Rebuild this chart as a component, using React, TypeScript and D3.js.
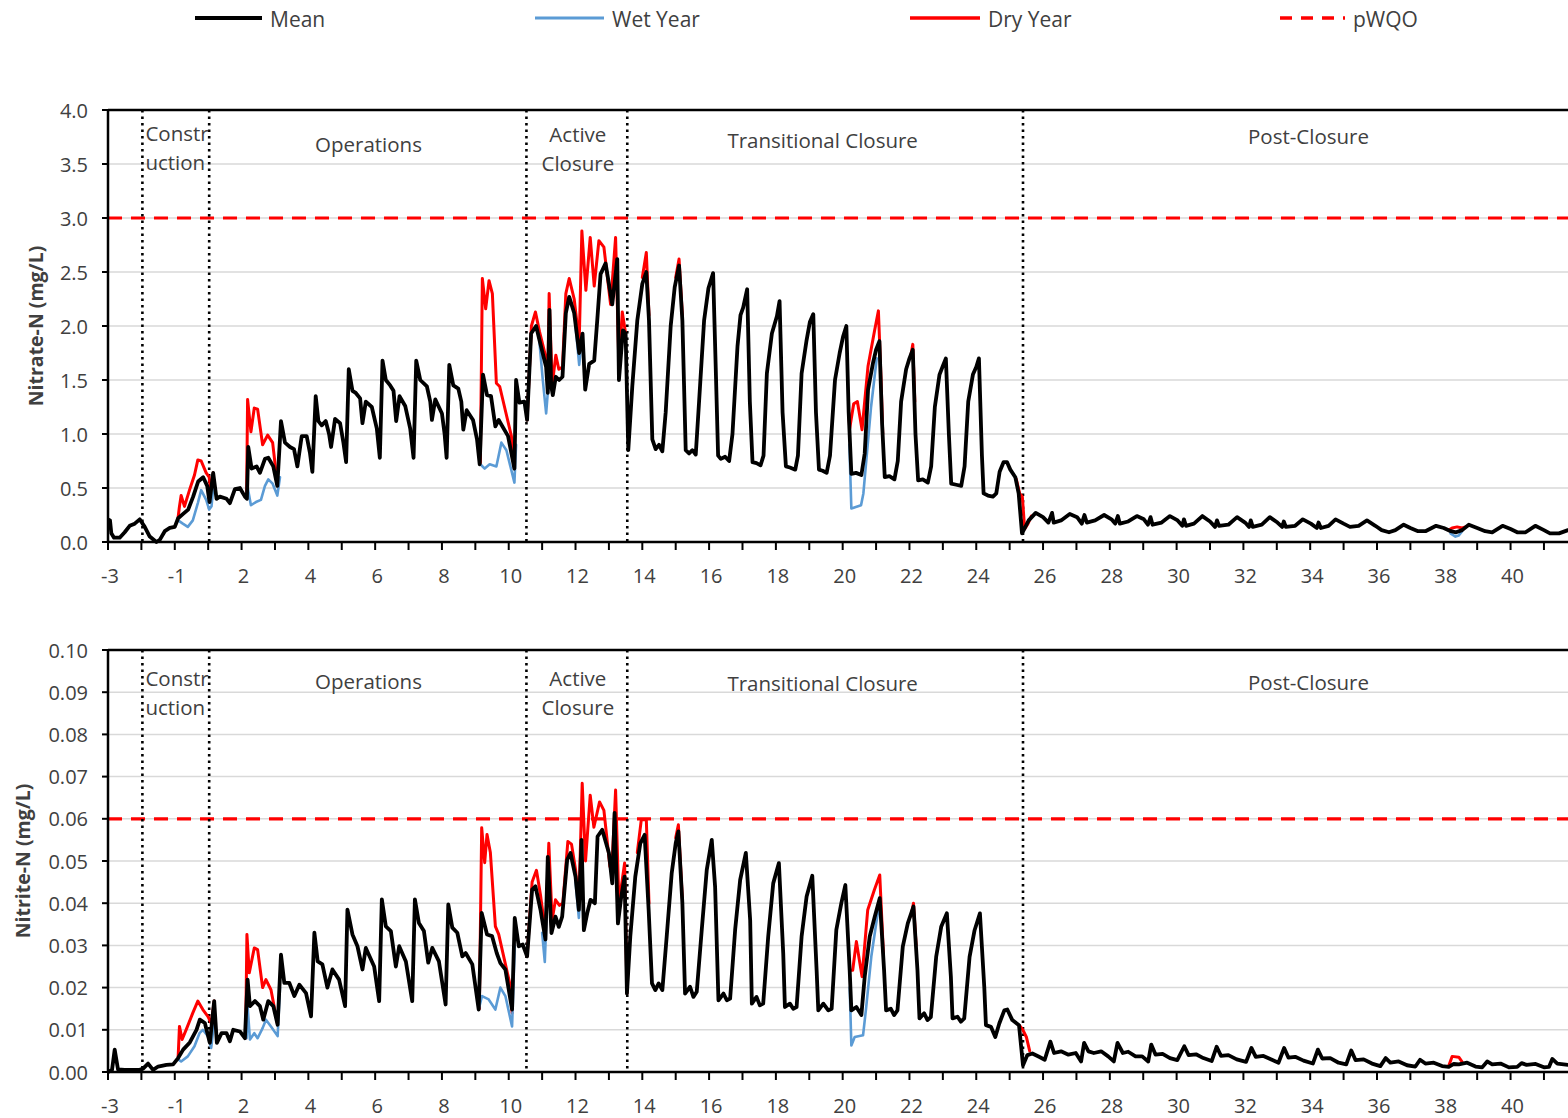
import * as d3 from 'd3';

type Pt = [number, number];

const W = 1568;
const H = 1118;
const FONT = '"Open Sans", "Noto Sans", sans-serif';
const INK = '#404040';
const C_MEAN = '#000000';
const C_WET = '#5B9BD5';
const C_DRY = '#FF0000';

// one label per model period (no year 0)
const periodLabels = [
  '-3', '-2', '-1', '1', '2', '3', '4', '5', '6', '7', '8', '9', '10', '11', '12', '13', '14', '15', '16', '17', '18',
  '19', '20', '21', '22', '23', '24', '25', '26', '27', '28', '29', '30', '31', '32', '33', '34', '35', '36', '37',
  '38', '39', '40', '41',
];

// phase boundaries, in period index units
const phaseLines = [1.03, 3.03, 12.53, 15.55, 27.4];

const nitrateTicks = [0, 0.5, 1.0, 1.5, 2.0, 2.5, 3.0, 3.5, 4.0];
const nitriteTicks = [0, 0.01, 0.02, 0.03, 0.04, 0.05, 0.06, 0.07, 0.08, 0.09, 0.1];
const pwqoNitrate = 3.0;
const pwqoNitrite = 0.06;

const nitrateMean: Pt[] = [
  [0, 0.21], [0.06, 0.2], [0.1, 0.08], [0.18, 0.04], [0.35, 0.04], [0.5, 0.09], [0.65, 0.15], [0.8, 0.17], [0.95, 0.21],
  [1.1, 0.14], [1.25, 0.05], [1.45, 0.0], [1.55, 0.02], [1.7, 0.1], [1.85, 0.13], [2.0, 0.14], [2.1, 0.22], [2.25, 0.26],
  [2.4, 0.3], [2.55, 0.42], [2.7, 0.56], [2.85, 0.6], [2.97, 0.52], [3.04, 0.37], [3.15, 0.64], [3.25, 0.4], [3.35, 0.42],
  [3.55, 0.4], [3.65, 0.36], [3.8, 0.49], [3.95, 0.5], [4.1, 0.42], [4.16, 0.4],
  [4.2, 0.88], [4.3, 0.68], [4.45, 0.7], [4.55, 0.64], [4.7, 0.77], [4.8, 0.78], [4.95, 0.7], [5.07, 0.52],
  [5.18, 1.12], [5.3, 0.92], [5.45, 0.88], [5.57, 0.86], [5.67, 0.7], [5.8, 0.98], [5.95, 0.98], [6.05, 0.82], [6.12, 0.65],
  [6.22, 1.35], [6.3, 1.12], [6.4, 1.08], [6.52, 1.12], [6.62, 1.0], [6.68, 0.88], [6.8, 1.14], [6.95, 1.1], [7.05, 0.92], [7.13, 0.74],
  [7.21, 1.6], [7.32, 1.4], [7.42, 1.38], [7.55, 1.33], [7.62, 1.1], [7.72, 1.3], [7.9, 1.25], [8.05, 1.05], [8.14, 0.78],
  [8.22, 1.68], [8.32, 1.5], [8.45, 1.45], [8.55, 1.4], [8.63, 1.12], [8.73, 1.35], [8.9, 1.26], [9.05, 1.05], [9.15, 0.78],
  [9.23, 1.68], [9.35, 1.5], [9.55, 1.44], [9.65, 1.3], [9.7, 1.13], [9.8, 1.32], [10.0, 1.19], [10.08, 1.0], [10.14, 0.78],
  [10.22, 1.64], [10.34, 1.45], [10.49, 1.42], [10.58, 1.3], [10.64, 1.04], [10.74, 1.22], [10.93, 1.13], [11.05, 0.95], [11.13, 0.72],
  [11.23, 1.55], [11.35, 1.36], [11.47, 1.35], [11.6, 1.07], [11.7, 1.13], [11.98, 0.98], [12.17, 0.68],
  [12.22, 1.5], [12.32, 1.29], [12.47, 1.3], [12.55, 1.13],
  [12.67, 1.93], [12.82, 2.0], [12.92, 1.87], [13.12, 1.62], [13.17, 1.38], [13.22, 2.15], [13.27, 1.45], [13.32, 1.36],
  [13.41, 1.53], [13.51, 1.5], [13.61, 1.53], [13.71, 2.12], [13.81, 2.27], [13.96, 2.12], [14.11, 1.75], [14.21, 1.93],
  [14.29, 1.41], [14.41, 1.65], [14.56, 1.68], [14.65, 2.05], [14.75, 2.48], [14.9, 2.58], [15.1, 2.2], [15.25, 2.62],
  [15.3, 1.5], [15.42, 1.96], [15.5, 1.93], [15.58, 0.85],
  [15.7, 1.44], [15.85, 2.05], [16.0, 2.39], [16.12, 2.5], [16.2, 2.05], [16.3, 0.95], [16.4, 0.86], [16.5, 0.9], [16.6, 0.84],
  [16.7, 1.2], [16.85, 2.0], [16.97, 2.36], [17.1, 2.56], [17.2, 2.05], [17.3, 0.85], [17.4, 0.82], [17.5, 0.85], [17.6, 0.81],
  [17.7, 1.3], [17.85, 2.05], [17.98, 2.35], [18.12, 2.49], [18.2, 1.6], [18.27, 0.8], [18.35, 0.77], [18.48, 0.79], [18.6, 0.75],
  [18.7, 1.0], [18.85, 1.81], [18.94, 2.1], [19.02, 2.17], [19.14, 2.34], [19.22, 1.3], [19.3, 0.74], [19.42, 0.73], [19.54, 0.71],
  [19.63, 0.8], [19.73, 1.56], [19.88, 1.93], [20.03, 2.09], [20.11, 2.23], [20.2, 1.2], [20.3, 0.7], [20.42, 0.69], [20.58, 0.67],
  [20.66, 0.8], [20.77, 1.56], [20.92, 1.87], [21.02, 2.04], [21.12, 2.11], [21.2, 1.2], [21.29, 0.67], [21.4, 0.66], [21.52, 0.64],
  [21.62, 0.8], [21.77, 1.5], [21.91, 1.75], [22.01, 1.9], [22.11, 2.0], [22.18, 1.2], [22.26, 0.63], [22.4, 0.64], [22.56, 0.62],
  [22.66, 0.82], [22.76, 1.41], [22.91, 1.66], [23.0, 1.78], [23.1, 1.86], [23.18, 1.1], [23.26, 0.6], [23.4, 0.61], [23.55, 0.58],
  [23.65, 0.75], [23.75, 1.3], [23.9, 1.6], [24.0, 1.7], [24.1, 1.78], [24.18, 1.0], [24.26, 0.57], [24.4, 0.58], [24.55, 0.55],
  [24.65, 0.7], [24.76, 1.25], [24.9, 1.55], [25.0, 1.63], [25.09, 1.7], [25.18, 1.0], [25.25, 0.54], [25.4, 0.53], [25.55, 0.52],
  [25.65, 0.7], [25.76, 1.3], [25.9, 1.55], [26.0, 1.62], [26.08, 1.7], [26.17, 0.8], [26.22, 0.45], [26.35, 0.43], [26.5, 0.42],
  [26.6, 0.45], [26.7, 0.65], [26.82, 0.74], [26.92, 0.74], [27.02, 0.67], [27.17, 0.6], [27.27, 0.45], [27.37, 0.08],
  [27.47, 0.14], [27.57, 0.2], [27.78, 0.27],
  [28.0, 0.23], [28.16, 0.18], [28.27, 0.27], [28.32, 0.18], [28.54, 0.2], [28.8, 0.26], [29.02, 0.23], [29.16, 0.17],
  [29.24, 0.25], [29.31, 0.18], [29.56, 0.2], [29.83, 0.25], [30.05, 0.21], [30.16, 0.17], [30.24, 0.24], [30.3, 0.17],
  [30.55, 0.19], [30.81, 0.24], [31.02, 0.21], [31.14, 0.16], [31.22, 0.23], [31.28, 0.16], [31.55, 0.18], [31.8, 0.24],
  [32.03, 0.2], [32.17, 0.15], [32.22, 0.21], [32.28, 0.15], [32.52, 0.17], [32.77, 0.24], [33.0, 0.19], [33.15, 0.14],
  [33.21, 0.2], [33.27, 0.15], [33.55, 0.16], [33.81, 0.23], [34.05, 0.18], [34.17, 0.14], [34.22, 0.2], [34.28, 0.14],
  [34.55, 0.16], [34.79, 0.23], [35.02, 0.18], [35.16, 0.14], [35.21, 0.19], [35.27, 0.14], [35.55, 0.15], [35.78, 0.21],
  [36.02, 0.17], [36.2, 0.13], [36.25, 0.18], [36.32, 0.13], [36.55, 0.15], [36.76, 0.21], [37.0, 0.17], [37.19, 0.14],
  [37.45, 0.15], [37.7, 0.2], [37.95, 0.15], [38.14, 0.11], [38.36, 0.09], [38.55, 0.11], [38.8, 0.16], [39.0, 0.13],
  [39.23, 0.1], [39.45, 0.1], [39.77, 0.15], [40.0, 0.13], [40.21, 0.1], [40.37, 0.09], [40.55, 0.11], [40.75, 0.16],
  [41.0, 0.13], [41.24, 0.1], [41.45, 0.09], [41.76, 0.15], [42.0, 0.12], [42.2, 0.09], [42.45, 0.09], [42.74, 0.15],
  [43.0, 0.11], [43.18, 0.08], [43.45, 0.08], [43.72, 0.11],
];

// dry / wet scenarios: only the stretches where they leave the mean
const nitrateDry: Pt[][] = [
  [[2.1, 0.23], [2.14, 0.33], [2.19, 0.43], [2.29, 0.33], [2.44, 0.48], [2.59, 0.62], [2.69, 0.76], [2.79, 0.75], [2.94, 0.64], [3.03, 0.6], [3.08, 0.45], [3.15, 0.64]],
  [[4.15, 0.42], [4.18, 1.32], [4.28, 1.02], [4.38, 1.24], [4.48, 1.23], [4.63, 0.9], [4.78, 0.99], [4.93, 0.92], [5.07, 0.54]],
  [[11.15, 0.72], [11.21, 2.44], [11.31, 2.16], [11.41, 2.42], [11.51, 2.3], [11.63, 1.47], [11.73, 1.44], [12.08, 0.98], [12.17, 0.68]],
  [[12.55, 1.13], [12.68, 2.0], [12.8, 2.13], [12.92, 1.95], [13.12, 1.7], [13.17, 1.5], [13.21, 2.3], [13.3, 1.45], [13.41, 1.73],
    [13.5, 1.6], [13.61, 1.62], [13.71, 2.3], [13.81, 2.44], [13.96, 2.25], [14.11, 1.85], [14.19, 2.88], [14.31, 2.33], [14.44, 2.82],
    [14.56, 2.37], [14.7, 2.79], [14.85, 2.73], [15.05, 2.2], [15.2, 2.82], [15.3, 1.62], [15.4, 2.13], [15.5, 1.93]],
  [[16.0, 2.45], [16.12, 2.68], [16.2, 2.1]],
  [[17.0, 2.45], [17.1, 2.62], [17.2, 2.1]],
  [[22.18, 1.2], [22.21, 1.05], [22.33, 1.28], [22.44, 1.3], [22.58, 1.04], [22.76, 1.63], [22.95, 1.95], [23.07, 2.14], [23.15, 1.5], [23.2, 1.0]],
  [[24.05, 1.74], [24.1, 1.83], [24.16, 1.3]],
  [[27.2, 0.58], [27.3, 0.45], [27.38, 0.42], [27.45, 0.12], [27.55, 0.17], [27.65, 0.24]],
  [[40.15, 0.11], [40.25, 0.13], [40.4, 0.14], [40.55, 0.13], [40.65, 0.14]],
];

const nitrateWet: Pt[][] = [
  [[2.1, 0.2], [2.24, 0.17], [2.39, 0.14], [2.54, 0.2], [2.69, 0.36], [2.79, 0.48], [2.94, 0.39], [3.03, 0.3], [3.1, 0.33], [3.15, 0.5]],
  [[4.15, 0.4], [4.18, 0.51], [4.28, 0.34], [4.43, 0.37], [4.58, 0.39], [4.7, 0.52], [4.8, 0.58], [4.93, 0.54], [5.07, 0.43], [5.15, 0.6]],
  [[11.15, 0.72], [11.28, 0.68], [11.43, 0.72], [11.63, 0.7], [11.78, 0.92], [11.93, 0.85], [12.17, 0.55], [12.22, 0.9]],
  [[12.92, 1.85], [13.02, 1.5], [13.12, 1.19], [13.2, 1.5]],
  [[14.0, 2.0], [14.11, 1.64], [14.19, 1.9]],
  [[22.2, 0.9], [22.26, 0.31], [22.55, 0.34], [22.62, 0.45], [22.85, 1.25], [23.02, 1.7]],
  [[40.2, 0.08], [40.35, 0.05], [40.45, 0.06], [40.55, 0.1]],
];

const nitriteMean: Pt[] = [
  [0, 0.0], [0.12, 0.0005], [0.2, 0.0053], [0.3, 0.0006], [0.5, 0.0005], [0.95, 0.0005], [1.05, 0.0008], [1.2, 0.002],
  [1.35, 0.0005], [1.5, 0.0013], [1.75, 0.0017], [1.95, 0.0018], [2.1, 0.0033], [2.25, 0.0053], [2.45, 0.007], [2.65, 0.01],
  [2.75, 0.0124], [2.9, 0.0116], [3.05, 0.0069], [3.18, 0.0168], [3.26, 0.0069], [3.4, 0.0092], [3.55, 0.0092], [3.65, 0.0073],
  [3.75, 0.01], [3.95, 0.0096], [4.1, 0.008],
  [4.18, 0.0219], [4.25, 0.0156], [4.4, 0.0168], [4.55, 0.0156], [4.65, 0.0124], [4.8, 0.0168], [4.95, 0.0156], [5.08, 0.0112],
  [5.18, 0.0278], [5.28, 0.0211], [5.43, 0.0211], [5.58, 0.018], [5.73, 0.0207], [5.93, 0.0187], [6.08, 0.0132],
  [6.18, 0.033], [6.28, 0.0262], [6.42, 0.0255], [6.57, 0.02], [6.72, 0.0243], [6.92, 0.0219], [7.1, 0.0156],
  [7.17, 0.0385], [7.32, 0.0326], [7.47, 0.0298], [7.62, 0.0243], [7.72, 0.0294], [7.97, 0.025], [8.12, 0.0168],
  [8.2, 0.0409], [8.32, 0.0345], [8.47, 0.0334], [8.62, 0.025], [8.72, 0.0298], [8.92, 0.0262], [9.11, 0.0168],
  [9.19, 0.0409], [9.31, 0.0353], [9.46, 0.0334], [9.59, 0.0259], [9.71, 0.0294], [9.91, 0.0262], [10.11, 0.016],
  [10.19, 0.0397], [10.31, 0.0342], [10.46, 0.033], [10.61, 0.0274], [10.71, 0.0282], [10.91, 0.0255], [11.1, 0.0148],
  [11.19, 0.0377], [11.35, 0.0326], [11.5, 0.0322], [11.64, 0.0282], [11.75, 0.0258], [11.9, 0.0243], [12.1, 0.0148],
  [12.18, 0.0365], [12.3, 0.0298], [12.42, 0.0302], [12.55, 0.0274],
  [12.7, 0.0432], [12.8, 0.044], [12.95, 0.0385], [13.1, 0.0314], [13.17, 0.051], [13.28, 0.0329], [13.4, 0.0368], [13.5, 0.0344],
  [13.6, 0.0368], [13.75, 0.0503], [13.85, 0.0519], [14.0, 0.0463], [14.1, 0.0384], [14.18, 0.055], [14.25, 0.0336], [14.35, 0.0376],
  [14.45, 0.0408], [14.58, 0.04], [14.66, 0.0558], [14.8, 0.0574], [15.0, 0.0519], [15.1, 0.0447], [15.17, 0.0614], [15.27, 0.0352],
  [15.37, 0.0416], [15.47, 0.0463], [15.54, 0.0186],
  [15.64, 0.0321], [15.79, 0.0463], [15.94, 0.0542], [16.07, 0.0562], [16.19, 0.0384], [16.29, 0.021], [16.39, 0.0194], [16.49, 0.021],
  [16.6, 0.0194], [16.73, 0.0321], [16.88, 0.0471], [17.0, 0.0542], [17.08, 0.057], [17.2, 0.04], [17.28, 0.0186], [17.43, 0.0202],
  [17.53, 0.0178], [17.63, 0.019], [17.78, 0.0337], [17.93, 0.0479], [18.08, 0.055], [18.18, 0.0439], [18.28, 0.017], [18.43, 0.0186],
  [18.53, 0.017], [18.63, 0.0174], [18.78, 0.0337], [18.93, 0.0455], [19.1, 0.0519], [19.23, 0.036], [19.28, 0.0162], [19.42, 0.0178],
  [19.52, 0.0158], [19.62, 0.0162], [19.77, 0.0321], [19.92, 0.0447], [20.09, 0.0495], [20.22, 0.0281], [20.27, 0.0154], [20.42, 0.0162],
  [20.52, 0.015], [20.62, 0.0154], [20.77, 0.0321], [20.92, 0.0416], [21.09, 0.0465], [21.22, 0.0241], [21.27, 0.0146], [21.42, 0.0162],
  [21.57, 0.0146], [21.67, 0.015], [21.81, 0.0337], [21.96, 0.04], [22.08, 0.0443], [22.21, 0.0241], [22.26, 0.0146], [22.41, 0.0154],
  [22.56, 0.0135], [22.66, 0.0226], [22.81, 0.0321], [22.96, 0.0368], [23.11, 0.0412], [23.24, 0.0241], [23.3, 0.0146], [23.44, 0.015],
  [23.54, 0.0135], [23.64, 0.0146], [23.8, 0.0297], [23.95, 0.0352], [24.12, 0.0392], [24.24, 0.0241], [24.3, 0.0127], [24.44, 0.0139],
  [24.54, 0.0123], [24.64, 0.013], [24.8, 0.0273], [24.95, 0.0344], [25.12, 0.0376], [25.24, 0.0226], [25.29, 0.0127], [25.44, 0.0131],
  [25.54, 0.0119], [25.64, 0.0127], [25.8, 0.0273], [25.95, 0.0336], [26.11, 0.0376], [26.24, 0.0202], [26.29, 0.0111], [26.44, 0.0107],
  [26.57, 0.0083], [26.69, 0.0115], [26.84, 0.0146], [26.93, 0.0148], [27.08, 0.0123], [27.28, 0.0111], [27.4, 0.0016], [27.53, 0.004],
  [27.68, 0.0044], [27.88, 0.0036],
  [28.05, 0.0029], [28.22, 0.0072], [28.33, 0.0045], [28.54, 0.0049], [28.76, 0.0041], [28.98, 0.0045], [29.14, 0.0025], [29.23, 0.0069],
  [29.36, 0.0049], [29.52, 0.0045], [29.74, 0.0049], [29.95, 0.0037], [30.12, 0.0025], [30.23, 0.0069], [30.39, 0.0045], [30.55, 0.0048],
  [30.77, 0.0037], [30.97, 0.0037], [31.15, 0.0025], [31.24, 0.0065], [31.37, 0.0041], [31.58, 0.0043], [31.8, 0.0033], [32.02, 0.0028],
  [32.23, 0.0061], [32.36, 0.004], [32.58, 0.0042], [32.8, 0.0033], [33.05, 0.0026], [33.2, 0.006], [33.33, 0.0038], [33.55, 0.004],
  [33.8, 0.003], [34.08, 0.0024], [34.24, 0.0057], [34.37, 0.0036], [34.6, 0.0038], [34.82, 0.003], [35.05, 0.0022], [35.22, 0.0057],
  [35.35, 0.0034], [35.55, 0.0036], [35.8, 0.0027], [36.08, 0.002], [36.23, 0.0053], [36.36, 0.0032], [36.6, 0.0033], [36.85, 0.0022],
  [37.08, 0.0018], [37.23, 0.0051], [37.36, 0.0028], [37.6, 0.003], [37.85, 0.002], [38.1, 0.0014], [38.26, 0.0033], [38.4, 0.0022],
  [38.65, 0.0025], [38.9, 0.0016], [39.15, 0.0013], [39.29, 0.0029], [39.45, 0.002], [39.7, 0.0022], [39.95, 0.0014], [40.15, 0.0012],
  [40.3, 0.0019], [40.45, 0.0018], [40.7, 0.0022], [40.95, 0.0013], [41.15, 0.0011], [41.3, 0.0025], [41.45, 0.0018], [41.7, 0.002],
  [41.95, 0.0011], [42.2, 0.0012], [42.33, 0.0021], [42.48, 0.0017], [42.75, 0.0019], [43.0, 0.0011], [43.15, 0.0012], [43.25, 0.0031],
  [43.4, 0.002], [43.72, 0.0017],
];

const nitriteDry: Pt[][] = [
  [[2.1, 0.0035], [2.14, 0.0108], [2.22, 0.0077], [2.36, 0.0104], [2.54, 0.014], [2.69, 0.0168], [2.84, 0.0148], [2.99, 0.0132], [3.09, 0.0116], [3.18, 0.0168]],
  [[4.12, 0.008], [4.16, 0.0326], [4.23, 0.0235], [4.38, 0.0294], [4.48, 0.029], [4.63, 0.02], [4.73, 0.0219], [4.88, 0.0195], [5.08, 0.0112]],
  [[11.12, 0.015], [11.19, 0.0579], [11.28, 0.0496], [11.35, 0.0563], [11.45, 0.052], [11.6, 0.0345], [11.7, 0.0326], [12.05, 0.0203], [12.1, 0.014]],
  [[12.55, 0.0274], [12.7, 0.045], [12.83, 0.0478], [12.95, 0.042], [13.1, 0.033], [13.2, 0.0542], [13.3, 0.036], [13.4, 0.0408],
    [13.52, 0.0395], [13.62, 0.04], [13.77, 0.0546], [13.88, 0.054], [14.0, 0.048], [14.1, 0.04], [14.2, 0.0684], [14.3, 0.05],
    [14.44, 0.0656], [14.55, 0.058], [14.72, 0.064], [14.85, 0.062], [15.03, 0.0487], [15.1, 0.05], [15.2, 0.0668], [15.3, 0.04],
    [15.47, 0.0495], [15.54, 0.0186]],
  [[15.85, 0.052], [15.97, 0.0598], [16.12, 0.0598], [16.2, 0.04]],
  [[17.0, 0.0555], [17.08, 0.0586], [17.2, 0.041]],
  [[22.21, 0.0241], [22.3, 0.0241], [22.41, 0.0309], [22.58, 0.0226], [22.75, 0.0384], [22.95, 0.0432], [23.11, 0.0467], [23.22, 0.028]],
  [[24.05, 0.037], [24.12, 0.04], [24.2, 0.03]],
  [[27.3, 0.011], [27.4, 0.0099], [27.5, 0.0083], [27.6, 0.005]],
  [[40.15, 0.0015], [40.25, 0.0037], [40.45, 0.0035], [40.55, 0.0024]],
];

const nitriteWet: Pt[][] = [
  [[2.1, 0.003], [2.19, 0.0025], [2.39, 0.0037], [2.59, 0.0061], [2.74, 0.0092], [2.84, 0.01], [2.99, 0.0085], [3.09, 0.0057], [3.18, 0.012]],
  [[4.15, 0.008], [4.18, 0.0156], [4.25, 0.0077], [4.38, 0.0092], [4.48, 0.008], [4.63, 0.0104], [4.73, 0.0124], [4.88, 0.0108], [5.08, 0.0085], [5.15, 0.02]],
  [[11.1, 0.0148], [11.2, 0.018], [11.4, 0.0172], [11.6, 0.0148], [11.75, 0.02], [11.9, 0.018], [12.1, 0.0108], [12.18, 0.03]],
  [[13.0, 0.033], [13.08, 0.0261], [13.17, 0.045]],
  [[14.0, 0.045], [14.1, 0.0365], [14.18, 0.05]],
  [[22.21, 0.02], [22.26, 0.0063], [22.36, 0.0083], [22.61, 0.0087], [22.7, 0.015], [22.86, 0.0275], [23.0, 0.035], [23.1, 0.04]],
];

const phaseLabels = [
  { lines: ['Constr', 'uction'], at: 1.12, anchor: 'start' },
  { lines: ['Operations'], at: 7.8, anchor: 'middle' },
  { lines: ['Active', 'Closure'], at: 14.07, anchor: 'middle' },
  { lines: ['Transitional Closure'], at: 21.4, anchor: 'middle' },
  { lines: ['Post-Closure'], at: 35.95, anchor: 'middle' },
];

const legendItems = [
  { label: 'Mean', color: C_MEAN, dash: '', x0: 195, x1: 262, w: 4 },
  { label: 'Wet Year', color: C_WET, dash: '', x0: 535, x1: 604, w: 3 },
  { label: 'Dry Year', color: C_DRY, dash: '', x0: 910, x1: 980, w: 3.5 },
  { label: 'pWQO', color: C_DRY, dash: '12,9', x0: 1280, x1: 1345, w: 3.5 },
];

const x = d3.scaleLinear().domain([0, 43.72]).range([108, W]);

interface PanelProps {
  id: string;
  top: number;
  bottom: number;
  yMax: number;
  ticks: number[];
  digits: number;
  title: string;
  titleX: number;
  mean: Pt[];
  dry: Pt[][];
  wet: Pt[][];
  pwqo: number;
  labelDy: number[][];
}

function Panel({ id, top, bottom, yMax, ticks, digits, title, titleX, mean, dry, wet, pwqo, labelDy }: PanelProps) {
  const y = d3.scaleLinear().domain([0, yMax]).range([bottom, top]);
  const line = d3.line<Pt>().x((d) => x(d[0])).y((d) => y(d[1]));
  const left = x(0);
  const xTicks = d3.range(0, 44);

  return (
    <g>
      <defs>
        <clipPath id={`clip-${id}`}>
          <rect x={left} y={top - 4} width={W - left} height={bottom - top + 8} />
        </clipPath>
      </defs>

      {ticks.slice(1, -1).map((t) => (
        <line key={t} x1={left} x2={W} y1={y(t)} y2={y(t)} stroke="#d9d9d9" strokeWidth={1.5} />
      ))}

      {/* pWQO */}
      <line x1={left} x2={W} y1={y(pwqo)} y2={y(pwqo)} stroke={C_DRY} strokeWidth={3.2} strokeDasharray="14,9" />

      {phaseLines.map((p) => (
        <line key={p} x1={x(p)} x2={x(p)} y1={top} y2={bottom} stroke="#000" strokeWidth={2.6} strokeDasharray="2.5,4" />
      ))}

      {phaseLabels.map((pl, i) => (
        <text
          key={pl.lines[0]}
          x={x(pl.at)}
          textAnchor={pl.anchor as any}
          fontFamily={FONT}
          fontSize={20.5}
          fill={INK}
        >
          {pl.lines.map((ln, j) => (
            <tspan key={ln} x={x(pl.at)} y={top + labelDy[i][j]} dominantBaseline="central">
              {ln}
            </tspan>
          ))}
        </text>
      ))}

      <g clipPath={`url(#clip-${id})`} fill="none" strokeLinejoin="round" strokeLinecap="round">
        {dry.map((seg, i) => (
          <path key={`d${i}`} d={line(seg) ?? ''} stroke={C_DRY} strokeWidth={3} />
        ))}
        {wet.map((seg, i) => (
          <path key={`w${i}`} d={line(seg) ?? ''} stroke={C_WET} strokeWidth={2.6} />
        ))}
        <path d={line(mean) ?? ''} stroke={C_MEAN} strokeWidth={3.8} />
      </g>

      {/* frame */}
      <line x1={left} x2={W} y1={top} y2={top} stroke="#000" strokeWidth={2.5} />
      <line x1={left} x2={W} y1={bottom} y2={bottom} stroke="#000" strokeWidth={2.5} />
      <line x1={left} x2={left} y1={top} y2={bottom} stroke="#000" strokeWidth={2.5} />

      {ticks.map((t) => (
        <g key={`yt${t}`}>
          <line x1={left - 6} x2={left} y1={y(t)} y2={y(t)} stroke="#000" strokeWidth={2} />
          <text x={88} y={y(t)} textAnchor="end" dominantBaseline="central" fontFamily={FONT} fontSize={20} fill={INK}>
            {t.toFixed(digits)}
          </text>
        </g>
      ))}

      {xTicks.map((i) => (
        <line key={`xt${i}`} x1={x(i)} x2={x(i)} y1={bottom} y2={bottom + 8} stroke="#000" strokeWidth={2} />
      ))}
      {xTicks.filter((i) => i % 2 === 0).map((i) => (
        <text
          key={`xl${i}`}
          x={x(i) + 2}
          y={bottom + 33}
          textAnchor="middle"
          dominantBaseline="central"
          fontFamily={FONT}
          fontSize={20}
          fill={INK}
        >
          {periodLabels[i]}
        </text>
      ))}

      <text
        transform={`translate(${titleX},${(top + bottom) / 2}) rotate(-90)`}
        textAnchor="middle"
        dominantBaseline="central"
        fontFamily={FONT}
        fontSize={19.5}
        fontWeight={700}
        fill={INK}
      >
        {title}
      </text>
    </g>
  );
}

export default function App() {
  return (
    <svg
      width={W}
      height={H}
      viewBox={`0 0 ${W} ${H}`}
      style={{ position: 'absolute', left: 0, top: 0, background: '#fff' }}
    >
      <rect width={W} height={H} fill="#fff" />

      {legendItems.map((it) => (
        <g key={it.label}>
          <line x1={it.x0} x2={it.x1} y1={18} y2={18} stroke={it.color} strokeWidth={it.w} strokeDasharray={it.dash || undefined} />
          <text x={it.x1 + 8} y={19} dominantBaseline="central" fontFamily={FONT} fontSize={21} fill={INK}>
            {it.label}
          </text>
        </g>
      ))}

      <Panel
        id="nitrate"
        top={110}
        bottom={542}
        yMax={4}
        ticks={nitrateTicks}
        digits={1}
        title="Nitrate-N (mg/L)"
        titleX={35}
        mean={nitrateMean}
        dry={nitrateDry}
        wet={nitrateWet}
        pwqo={pwqoNitrate}
        labelDy={[[23, 52], [34], [24, 53], [30], [26]]}
      />
      <Panel
        id="nitrite"
        top={650}
        bottom={1072}
        yMax={0.1}
        ticks={nitriteTicks}
        digits={2}
        title="Nitrite-N (mg/L)"
        titleX={22}
        mean={nitriteMean}
        dry={nitriteDry}
        wet={nitriteWet}
        pwqo={pwqoNitrite}
        labelDy={[[28, 57], [31], [28, 57], [33], [32]]}
      />
    </svg>
  );
}
